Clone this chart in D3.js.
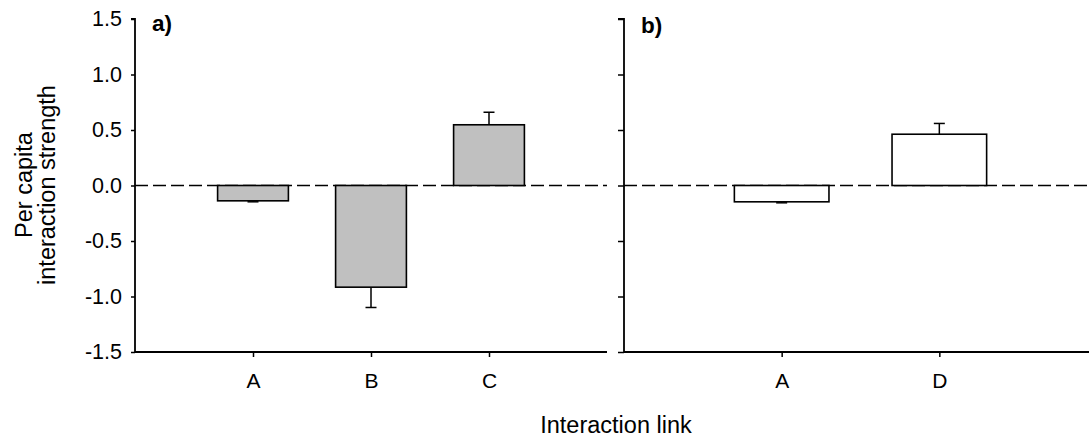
<!DOCTYPE html>
<html>
<head>
<meta charset="utf-8">
<script src="https://cdn.jsdelivr.net/npm/d3@7"></script>
<style>
  html, body { margin: 0; padding: 0; background: #fff; }
  svg { display: block; font-family: "Liberation Sans", Arial, sans-serif; }
</style>
</head>
<body>
<svg id="chart" width="1089" height="442"></svg>
<script>
// Panel a: links A, B, C (grey bars)
const catsA = ["A", "B", "C"];
const meanA = [-0.138, -0.916, 0.547];
const seA = [0.009, 0.183, 0.113];

// Panel b: links A, D (open bars)
const catsB = ["A", "D"];
const meanB = [-0.147, 0.462];
const seB = [0.009, 0.097];

const yTicks = [-1.5, -1.0, -0.5, 0.0, 0.5, 1.0, 1.5];
const panelLabels = ["a)", "b)"];
const yTitle = ["Per capita", "interaction strength"];
const xTitle = "Interaction link";

const svg = d3.select("#chart");
const plotTop = 19, plotBottom = 352;

const y = d3.scaleLinear().domain([-1.5, 1.5]).range([plotBottom, plotTop]);
const fmt = d3.format(".1f");

function panel(cats, means, ses, x0, x1, fill, showLabels, label, labelY) {
  const g = svg.append("g");
  // category positions at 1..n on a 0..n+1 linear axis
  const x = d3.scaleLinear().domain([0, cats.length + 1]).range([x0, x1]);
  const step = x(1) - x(0);
  const bw = step * 0.6;
  const tl = showLabels ? 4 : 6;

  // y axis
  const yAxis = d3.axisLeft(y).tickValues(yTicks).tickSize(tl).tickPadding(9)
    .tickFormat(d => showLabels ? (d < 0 ? "-" + fmt(-d) : fmt(d)) : "");
  const ya = g.append("g").attr("transform", `translate(${x0},0)`).call(yAxis);
  ya.select(".domain").attr("stroke-width", 1.8).attr("d", `M${-tl},${plotTop}H0V${plotBottom}`);
  ya.selectAll(".tick line").attr("stroke-width", 1.5);
  ya.selectAll("text").attr("font-size", 21.5).attr("fill", "#000");

  // x axis
  const xa = g.append("g").attr("transform", `translate(0,${plotBottom})`)
    .call(d3.axisBottom(x).tickValues(cats.map((c, i) => i + 1)).tickSize(5).tickPadding(16)
      .tickFormat(d => cats[d - 1]));
  xa.select(".domain").attr("stroke-width", 1.8).attr("d", `M${x0},0H${x1}`);
  xa.selectAll(".tick line").attr("stroke-width", 1.5);
  xa.selectAll("text").attr("font-size", 21).attr("fill", "#000");

  // zero reference line
  g.append("line")
    .attr("x1", x0).attr("x2", x1).attr("y1", y(0)).attr("y2", y(0))
    .attr("stroke", "#000").attr("stroke-width", 1.5).attr("stroke-dasharray", "13,5");

  const data = cats.map((c, i) => ({ i: i + 1, m: means[i], se: ses[i] }));
  const tip = d => y(d.m + Math.sign(d.m) * d.se);

  // error bars: one-sided, away from zero
  const eb = g.selectAll(".eb").data(data).enter().append("g");
  eb.append("line")
    .attr("x1", d => x(d.i)).attr("x2", d => x(d.i))
    .attr("y1", d => y(d.m)).attr("y2", tip)
    .attr("stroke", "#000").attr("stroke-width", 1.5);
  eb.append("line")
    .attr("x1", d => x(d.i) - 5.5).attr("x2", d => x(d.i) + 5.5)
    .attr("y1", tip).attr("y2", tip)
    .attr("stroke", "#000").attr("stroke-width", 1.5);

  // bars
  g.selectAll(".bar").data(data).enter().append("rect")
    .attr("x", d => x(d.i) - bw / 2)
    .attr("width", bw)
    .attr("y", d => y(Math.max(0, d.m)))
    .attr("height", d => Math.abs(y(d.m) - y(0)))
    .attr("fill", fill).attr("stroke", "#000").attr("stroke-width", 1.6);

  // panel letter
  g.append("text").attr("x", x0 + 17).attr("y", labelY)
    .attr("font-size", 22.5).attr("font-weight", "bold").text(label);
}

panel(catsA, meanA, seA, 135, 607, "#c0c0c0", true, panelLabels[0], 31);
panel(catsB, meanB, seB, 624, 1097, "#ffffff", false, panelLabels[1], 33);

// axis titles
svg.append("text").attr("x", 616).attr("y", 433).attr("text-anchor", "middle")
  .attr("font-size", 23.5).text(xTitle);

const yt = svg.append("text").attr("transform", "translate(0,185) rotate(-90)")
  .attr("text-anchor", "middle").attr("font-size", 23.5);
yt.append("tspan").attr("x", 0).attr("y", 32).text(yTitle[0]);
yt.append("tspan").attr("x", 0).attr("y", 55).text(yTitle[1]);
</script>
</body>
</html>
